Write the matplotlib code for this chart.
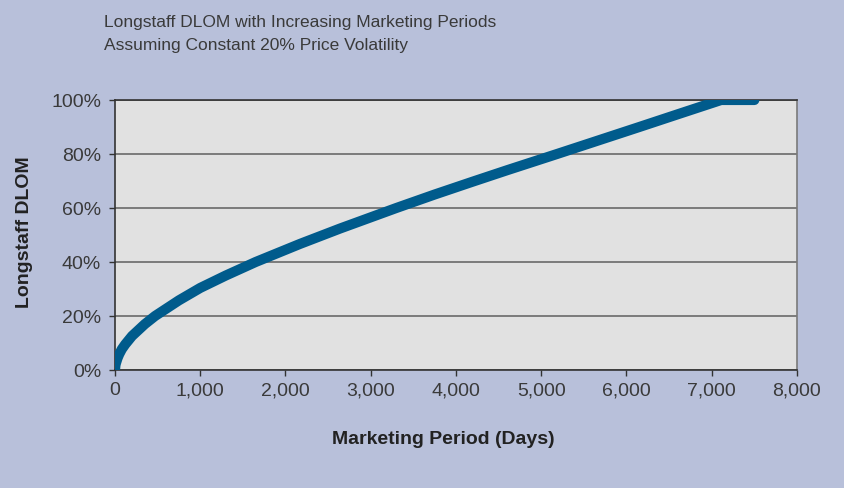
import numpy as np
import matplotlib
matplotlib.use("Agg")
import matplotlib.pyplot as plt
from matplotlib.ticker import FuncFormatter

plt.rcParams['font.family'] = ['Liberation Sans', 'DejaVu Sans']

# values
days = [0, 5, 10, 30, 50, 80, 120, 200, 350, 470, 750, 1000, 1300, 1650,
        2170, 2640, 3300, 3750, 4200, 4600, 5185, 5600, 6150, 6600, 7110, 7500]
dlom = [0, 1.7, 2.4, 4.4, 5.9, 7.7, 9.5, 12.6, 17.0, 20.0, 25.8, 30.4, 35.0, 40.0,
        46.7, 52.4, 60.0, 65.0, 69.8, 74.0, 80.0, 84.3, 90.0, 94.7, 100.0, 100.0]

x_ticks = [0, 1000, 2000, 3000, 4000, 5000, 6000, 7000, 8000]
y_ticks = [0, 20, 40, 60, 80, 100]

bg = '#b8c0da'
txt = '#3a3a3a'

fig = plt.figure(figsize=(8.44, 4.89), dpi=100, facecolor=bg)
ax = fig.add_axes([115 / 844, 1 - 371 / 489, 682 / 844, 270 / 489])
ax.set_facecolor('#e1e1e1')

ax.plot(days, dlom, color='#005b8c', lw=7.3, solid_capstyle='round',
        solid_joinstyle='round', zorder=3)

ax.set_xlim(0, 8000)
ax.set_ylim(0, 100)
ax.set_xticks(x_ticks)
ax.set_yticks(y_ticks)
ax.xaxis.set_major_formatter(FuncFormatter(lambda v, p: f'{int(v):,}'))
ax.yaxis.set_major_formatter(FuncFormatter(lambda v, p: f'{int(v)}%'))

ax.grid(axis='y', color='#6a6a6a', lw=1.2, zorder=1)
ax.tick_params(axis='both', direction='out', length=4, width=1,
               color='#333333', labelcolor=txt, labelsize=14)
ax.tick_params(axis='y', pad=6)
ax.tick_params(axis='x', pad=4)

for side in ['left', 'bottom', 'top']:
    ax.spines[side].set_color('#333333')
    ax.spines[side].set_linewidth(1.2)
ax.spines['right'].set_color('#7a7a7a')
ax.spines['right'].set_linewidth(1.2)

fig.text(104 / 844, 1 - 15 / 489,
         'Longstaff DLOM with Increasing Marketing Periods\n'
         'Assuming Constant 20% Price Volatility',
         ha='left', va='top', fontsize=12.5, color=txt, linespacing=1.68)

fig.text(443 / 844, 1 - 440 / 489, 'Marketing Period (Days)', ha='center',
         va='center', fontsize=14, fontweight='bold', color='#222222')
fig.text(25 / 844, 1 - 232 / 489, 'Longstaff DLOM', ha='center', va='center',
         rotation=90, fontsize=14, fontweight='bold', color='#222222')

fig.savefig('out.png', dpi=100, facecolor=bg)
